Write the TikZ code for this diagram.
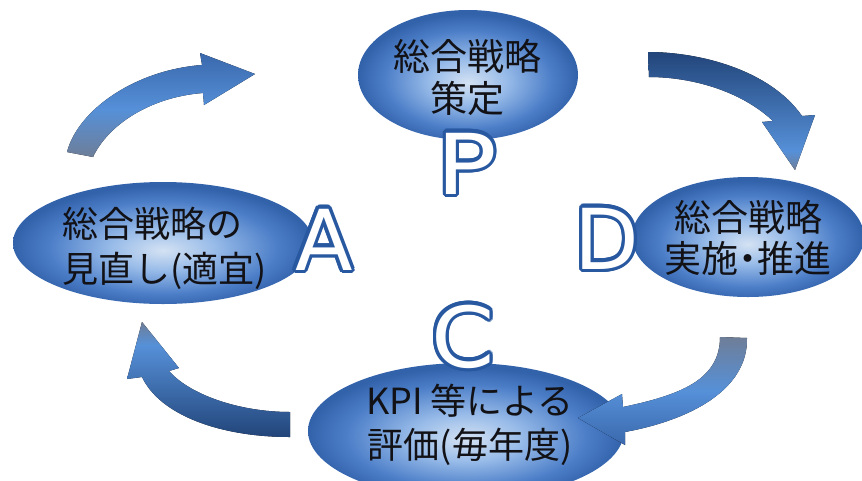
\documentclass[tikz,border=0pt]{standalone}
\usepackage{fontspec}
\newfontfamily\jp{Noto Sans CJK JP}
\newfontfamily\latf{DejaVu Sans}
\usetikzlibrary{shapes.geometric}
\definecolor{ellIn}{RGB}{212,226,243}
\definecolor{ellMid}{RGB}{150,186,232}
\definecolor{ellOut}{RGB}{76,126,200}
\definecolor{ellEdge}{RGB}{50,98,170}
\definecolor{txt}{RGB}{18,18,22}
\definecolor{lOut}{RGB}{40,88,160}
\definecolor{aGray}{RGB}{110,126,152}
\definecolor{aBright}{RGB}{86,144,216}
\definecolor{aMid}{RGB}{58,104,172}
\definecolor{aNavy}{RGB}{34,69,122}
\pgfdeclareradialshading{ellshade}{\pgfpoint{0bp}{-3bp}}{color(0bp)=(ellIn); color(9bp)=(ellMid); color(19bp)=(ellOut); color(25bp)=(ellEdge); color(50bp)=(ellEdge)}
% vertical shadings: 25bp = bottom of path, 75bp = top of path
\pgfdeclareverticalshading{arrowone}{100bp}{color(0bp)=(aGray); color(25bp)=(aGray); color(48bp)=(aBright); color(75bp)=(aMid); color(100bp)=(aMid)}
\pgfdeclareverticalshading{arrowtwo}{100bp}{color(0bp)=(aGray); color(25bp)=(aGray); color(33bp)=(aBright); color(75bp)=(aNavy); color(100bp)=(aNavy)}
\pgfdeclareverticalshading{arrowthree}{100bp}{color(0bp)=(aMid); color(25bp)=(aMid); color(50bp)=(aBright); color(75bp)=(aGray); color(100bp)=(aGray)}
\pgfdeclareverticalshading{arrowfour}{100bp}{color(0bp)=(aNavy); color(25bp)=(aNavy); color(65bp)=(aBright); color(75bp)=(aGray); color(100bp)=(aGray)}
\newcommand\pdcaletter[4]{%
  \foreach \ang in {0,22.5,...,337.5}{%
    \node[letterstyle, text=lOut, anchor=base] at ([shift={(\ang:3.3)}]#2) {\scalebox{#3}[1]{#4}};
  }
  \node[letterstyle, text=white, anchor=base] (#1) at (#2) {\scalebox{#3}[1]{#4}};
}
\begin{document}
\begin{tikzpicture}[x=1pt,y=-1pt]
\useasboundingbox (0,0) rectangle (862,480);
\tikzset{
  ell/.style={ellipse, inner sep=0pt, shade, shading=ellshade},
  jptext/.style={font=\jp\fontsize{37}{42}\selectfont, align=center, text=txt, inner sep=0pt},
  letterstyle/.style={font=\latf\fontsize{84}{84}\selectfont, inner sep=0pt},
  blockarrow/.style={shade, draw=none}
}
% ellipses
\node[ell, minimum width=220pt, minimum height=130pt] (ellP) at (468,75) {};
\node[ell, minimum width=300pt, minimum height=122pt] (ellA) at (163,243) {};
\node[ell, minimum width=232pt, minimum height=120pt] (ellD) at (748,237) {};
\node[ell, minimum width=316pt, minimum height=136pt] (ellC) at (466,431) {};
% texts
\node[jptext] (tP) at (467,77) {総合戦略\\策定};
\node[jptext, font=\jp\fontsize{36}{45}\selectfont, align=left, anchor=west] (tA) at (62,248) {総合戦略の\\見直し(適宜)};
\node[jptext, font=\jp\fontsize{37}{41}\selectfont] (tD) at (748,238) {総合戦略\\実施\kern-0.25em・\kern-0.25em推進};
\node[jptext, font=\jp\fontsize{36}{44}\selectfont] (tC) at (470,425) {KPI 等による\\評価(毎年度)};
% arrows
\fill[blockarrow, shading=arrowone] (67,152) .. controls (78,110) and (135,70) .. (202,65)
  -- (200,53) -- (255,74) -- (204,105) -- (203,93)
  .. controls (150,97) and (108,125) .. (93,157) -- cycle;
\fill[blockarrow, shading=arrowtwo] (648,52) .. controls (700,52) and (770,70) .. (802,116)
  -- (815,115) -- (795,170) -- (762,122) -- (773,121)
  .. controls (740,90) and (690,77) .. (649,77) -- cycle;
\fill[blockarrow, shading=arrowthree] (747,338) .. controls (748,390) and (690,420) .. (625,432)
  -- (625,445) -- (578,418) -- (622,394) -- (623,407)
  .. controls (680,395) and (720,380) .. (720,337) -- cycle;
\fill[blockarrow, shading=arrowfour] (290,437) .. controls (220,437) and (160,415) .. (142,377)
  -- (127,379) -- (142,322) -- (179,368) -- (169,371)
  .. controls (190,395) and (240,412) .. (290,412) -- cycle;
% letters
\coordinate (posP) at (467,194);
\coordinate (posA) at (324,270);
\coordinate (posD) at (607,269);
\coordinate (posC) at (463,367);
\pdcaletter{letP}{posP}{1.2}{P}
\pdcaletter{letA}{posA}{1}{A}
\pdcaletter{letD}{posD}{1}{D}
\pdcaletter{letC}{posC}{1.08}{C}
\end{tikzpicture}
\end{document}
